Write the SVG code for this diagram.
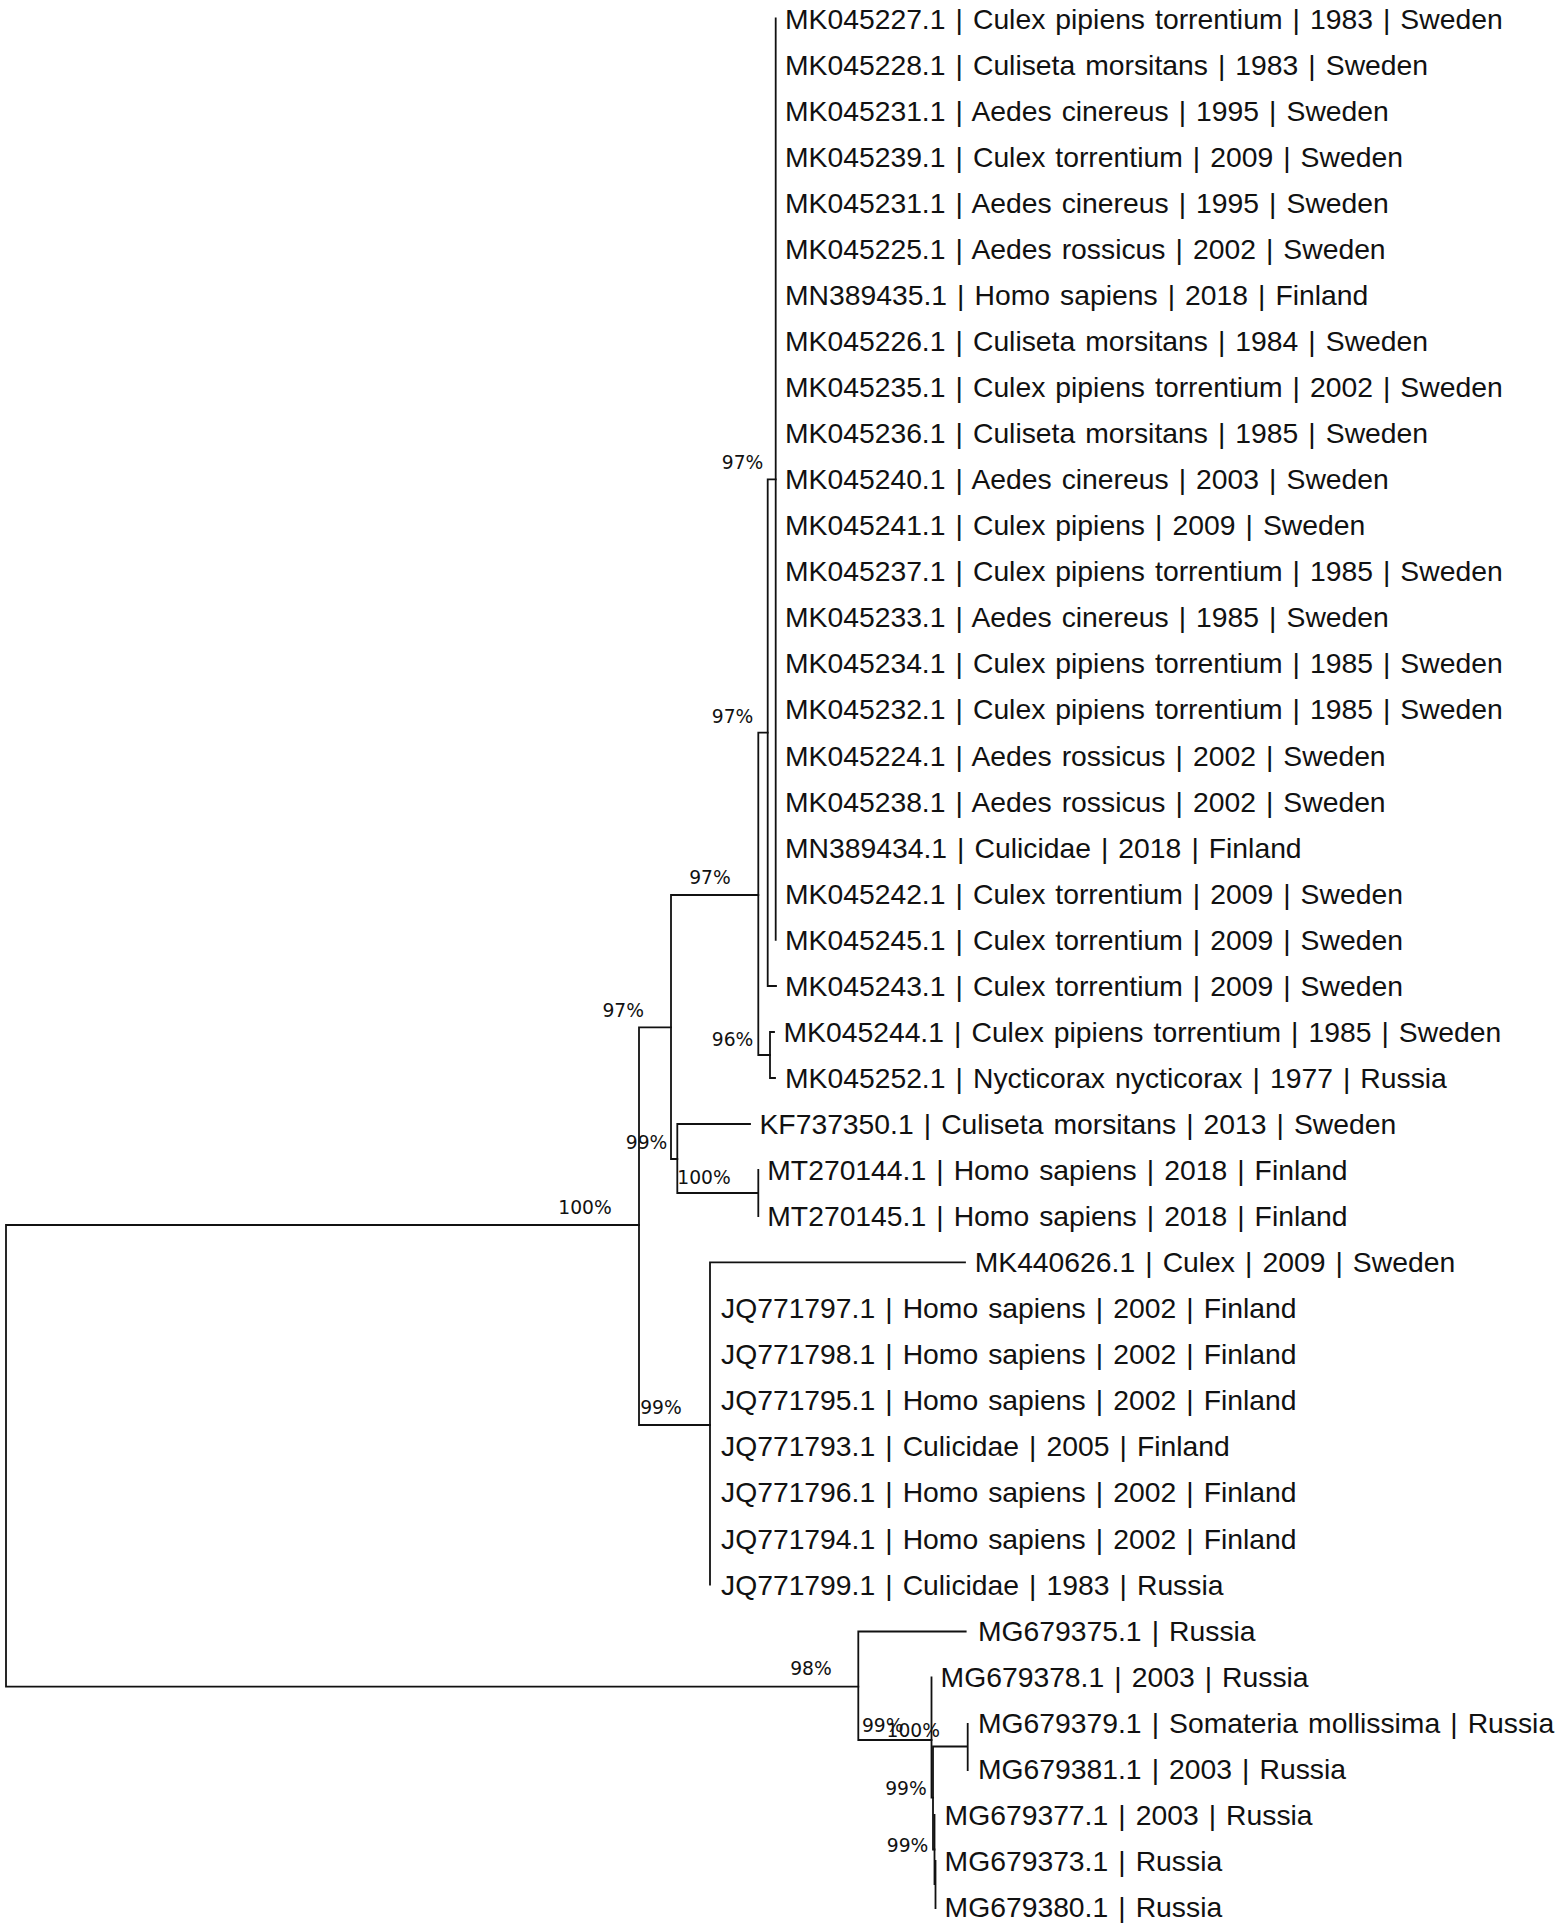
<svg xmlns="http://www.w3.org/2000/svg" width="1559" height="1932" viewBox="0 0 1559 1932">
<style>
.br{fill:none;stroke:#111;stroke-width:1.8;stroke-linecap:square}
.leaf{font-family:"Liberation Sans",Arial,sans-serif;font-size:28.3px;word-spacing:2.2px;fill:#111}
.bs{font-family:"DejaVu Sans",Verdana,sans-serif;font-size:18.7px;fill:#111;text-anchor:end}
</style>
<rect width="1559" height="1932" fill="#fff"/>
<g id="connectors">
<path class="br" d="M6,1225 V1686.7 M6,1225 H639 M6,1686.7 H858.3"/>
<path class="br" d="M639,1027.3 V1425 M639,1027.3 H671 M639,1425 H710"/>
<path class="br" d="M710,1262.3 V1584.7 M710,1262.3 H965"/>
<path class="br" d="M671,895 V1159 M671,895 H758.3 M671,1159 H677.3"/>
<path class="br" d="M677.3,1124 V1193 M677.3,1124 H750 M677.3,1193 H758.3 M758.3,1170 V1216"/>
<path class="br" d="M758.3,732.7 V1055 M758.3,732.7 H767.7 M758.3,1055 H770"/>
<path class="br" d="M774,1032 H770 V1078 H775"/>
<path class="br" d="M767.7,479.3 V986 M767.7,479.3 H775.7 M767.7,986 H776"/>
<path class="br" d="M775.7,18.5 V939.8"/>
<path class="br" d="M858.3,1631.5 V1740 M858.3,1631.5 H965.7 M858.3,1740 H931.5"/>
<path class="br" d="M931.5,1677.5 V1797.6 H933"/>
<path class="br" d="M933,1746.5 V1849.5 H934.5 M933,1746.5 H967.7 M967.7,1724 V1770"/>
<path class="br" d="M934.5,1815 V1884 H935.5 M935.5,1861 V1908"/>
</g>
<g id="support">
<text class="bs" x="763.3" y="469">97%</text>
<text class="bs" x="753.3" y="722.7">97%</text>
<text class="bs" x="730.7" y="884">97%</text>
<text class="bs" x="644" y="1017">97%</text>
<text class="bs" x="753.3" y="1045.7">96%</text>
<text class="bs" x="667.3" y="1149">99%</text>
<text class="bs" x="730.7" y="1184">100%</text>
<text class="bs" x="611.7" y="1214">100%</text>
<text class="bs" x="681.7" y="1414">99%</text>
<text class="bs" x="831.7" y="1675">98%</text>
<text class="bs" x="903.5" y="1731.7">99%</text>
<text class="bs" x="940" y="1736.7">100%</text>
<text class="bs" x="926.7" y="1795">99%</text>
<text class="bs" x="928.3" y="1851.7">99%</text>
</g>
<g id="leaves">
<g id="n0"><text class="leaf" x="785" y="28.5">MK045227.1 | Culex pipiens torrentium | 1983 | Sweden</text></g>
<g id="n1"><text class="leaf" x="785" y="74.6">MK045228.1 | Culiseta morsitans | 1983 | Sweden</text></g>
<g id="n2"><text class="leaf" x="785" y="120.6">MK045231.1 | Aedes cinereus | 1995 | Sweden</text></g>
<g id="n3"><text class="leaf" x="785" y="166.7">MK045239.1 | Culex torrentium | 2009 | Sweden</text></g>
<g id="n4"><text class="leaf" x="785" y="212.7">MK045231.1 | Aedes cinereus | 1995 | Sweden</text></g>
<g id="n5"><text class="leaf" x="785" y="258.8">MK045225.1 | Aedes rossicus | 2002 | Sweden</text></g>
<g id="n6"><text class="leaf" x="785" y="304.9">MN389435.1 | Homo sapiens | 2018 | Finland</text></g>
<g id="n7"><text class="leaf" x="785" y="350.9">MK045226.1 | Culiseta morsitans | 1984 | Sweden</text></g>
<g id="n8"><text class="leaf" x="785" y="397.0">MK045235.1 | Culex pipiens torrentium | 2002 | Sweden</text></g>
<g id="n9"><text class="leaf" x="785" y="443.0">MK045236.1 | Culiseta morsitans | 1985 | Sweden</text></g>
<g id="n10"><text class="leaf" x="785" y="489.1">MK045240.1 | Aedes cinereus | 2003 | Sweden</text></g>
<g id="n11"><text class="leaf" x="785" y="535.2">MK045241.1 | Culex pipiens | 2009 | Sweden</text></g>
<g id="n12"><text class="leaf" x="785" y="581.2">MK045237.1 | Culex pipiens torrentium | 1985 | Sweden</text></g>
<g id="n13"><text class="leaf" x="785" y="627.3">MK045233.1 | Aedes cinereus | 1985 | Sweden</text></g>
<g id="n14"><text class="leaf" x="785" y="673.3">MK045234.1 | Culex pipiens torrentium | 1985 | Sweden</text></g>
<g id="n15"><text class="leaf" x="785" y="719.4">MK045232.1 | Culex pipiens torrentium | 1985 | Sweden</text></g>
<g id="n16"><text class="leaf" x="785" y="765.5">MK045224.1 | Aedes rossicus | 2002 | Sweden</text></g>
<g id="n17"><text class="leaf" x="785" y="811.5">MK045238.1 | Aedes rossicus | 2002 | Sweden</text></g>
<g id="n18"><text class="leaf" x="785" y="857.6">MN389434.1 | Culicidae | 2018 | Finland</text></g>
<g id="n19"><text class="leaf" x="785" y="903.6">MK045242.1 | Culex torrentium | 2009 | Sweden</text></g>
<g id="n20"><text class="leaf" x="785" y="949.7">MK045245.1 | Culex torrentium | 2009 | Sweden</text></g>
<g id="n21"><text class="leaf" x="785" y="995.8">MK045243.1 | Culex torrentium | 2009 | Sweden</text></g>
<g id="n22"><text class="leaf" x="783.5" y="1041.8">MK045244.1 | Culex pipiens torrentium | 1985 | Sweden</text></g>
<g id="n23"><text class="leaf" x="785" y="1087.9">MK045252.1 | Nycticorax nycticorax | 1977 | Russia</text></g>
<g id="n24"><text class="leaf" x="759.5" y="1133.9">KF737350.1 | Culiseta morsitans | 2013 | Sweden</text></g>
<g id="n25"><text class="leaf" x="767.3" y="1180.0">MT270144.1 | Homo sapiens | 2018 | Finland</text></g>
<g id="n26"><text class="leaf" x="767.3" y="1226.1">MT270145.1 | Homo sapiens | 2018 | Finland</text></g>
<g id="n27"><text class="leaf" x="974.7" y="1272.1">MK440626.1 | Culex | 2009 | Sweden</text></g>
<g id="n28"><text class="leaf" x="721" y="1318.2">JQ771797.1 | Homo sapiens | 2002 | Finland</text></g>
<g id="n29"><text class="leaf" x="721" y="1364.2">JQ771798.1 | Homo sapiens | 2002 | Finland</text></g>
<g id="n30"><text class="leaf" x="721" y="1410.3">JQ771795.1 | Homo sapiens | 2002 | Finland</text></g>
<g id="n31"><text class="leaf" x="721" y="1456.4">JQ771793.1 | Culicidae | 2005 | Finland</text></g>
<g id="n32"><text class="leaf" x="721" y="1502.4">JQ771796.1 | Homo sapiens | 2002 | Finland</text></g>
<g id="n33"><text class="leaf" x="721" y="1548.5">JQ771794.1 | Homo sapiens | 2002 | Finland</text></g>
<g id="n34"><text class="leaf" x="721" y="1594.5">JQ771799.1 | Culicidae | 1983 | Russia</text></g>
<g id="n35"><text class="leaf" x="978" y="1640.6">MG679375.1 | Russia</text></g>
<g id="n36"><text class="leaf" x="940.6" y="1686.7">MG679378.1 | 2003 | Russia</text></g>
<g id="n37"><text class="leaf" x="978" y="1732.7">MG679379.1 | Somateria mollissima | Russia</text></g>
<g id="n38"><text class="leaf" x="978" y="1778.8">MG679381.1 | 2003 | Russia</text></g>
<g id="n39"><text class="leaf" x="944.6" y="1824.8">MG679377.1 | 2003 | Russia</text></g>
<g id="n40"><text class="leaf" x="944.6" y="1870.9">MG679373.1 | Russia</text></g>
<g id="n41"><text class="leaf" x="944.6" y="1917.0">MG679380.1 | Russia</text></g>
</g>
</svg>
